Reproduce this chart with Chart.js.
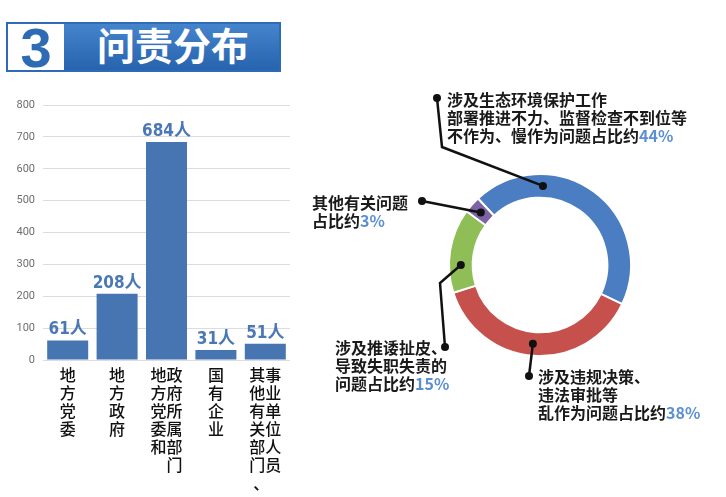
<!DOCTYPE html>
<html>
<head>
<meta charset="utf-8">
<script src="https://cdn.jsdelivr.net/npm/chart.js@4.4.1/dist/chart.umd.min.js"></script>
<style>
  html, body { margin: 0; padding: 0; background: #fff; }
  body { width: 726px; height: 497px; position: relative; overflow: hidden; font-family: "Noto Sans CJK SC", sans-serif; }
  #banner { position: absolute; left: 6px; top: 22px; width: 271px; height: 46px; border: 2px solid #2d6bb5; background: linear-gradient(#4584cd, #2763ae); }
  #banner .num { position: absolute; left: 0; top: 0; width: 56px; height: 46px; background: #fff; color: #2d6bb5; font: bold 56px "Liberation Sans", Arial, sans-serif; line-height: 48px; text-align: center; }
  #banner .title { position: absolute; left: 89px; top: -8px; height: 46px; line-height: 46px; color: #fff; font: bold 38px "Noto Sans CJK SC", sans-serif; }
  #barWrap { position: absolute; left: 0; top: 90px; width: 300px; height: 407px; }
  #pieWrap { position: absolute; left: 300px; top: 80px; width: 426px; height: 417px; }
</style>
</head>
<body>
<div id="banner"><div class="num">3</div><div class="title">问责分布</div></div>
<div id="barWrap"><canvas id="barChart" width="300" height="407"></canvas></div>
<div id="pieWrap"><canvas id="pieChart" width="426" height="417"></canvas></div>

<script>
// bar chart: people held accountable, by unit type (labels are stacked vertically, columns left to right)
const barCategories = [['地方党委'], ['地方政府'], ['地方党委和', '政府所属部门'], ['国有企业'], ['其他有关部门、', '事业单位人员']];
const barValues = [61, 208, 684, 31, 51];
const barUnit = '人';
const yMax = 800;
const yStep = 100;

// doughnut: problem types (last text line gets the percentage appended)
const pieLabels = [
    ['涉及生态环境保护工作', '部署推进不力、监督检查不到位等', '不作为、慢作为问题占比约'],
    ['涉及违规决策、', '违法审批等', '乱作为问题占比约'],
    ['涉及推诿扯皮、', '导致失职失责的', '问题占比约'],
    ['其他有关问题', '占比约']
];
const pieValues = [44, 38, 15, 3];
const pieColors = ['#4a7dc1', '#c6504c', '#8fbd56', '#7d63a6'];

// turn columns of text into lines so each character stacks vertically
function stackColumns(cols) {
    const chars = cols.map(c => [...c]);
    const n = Math.max(...chars.map(c => c.length));
    const lines = [];
    for (let i = 0; i < n; i++) {
        lines.push(chars.map(c => c[i] || '\u3000').join(''));
    }
    return lines;
}

const barValueLabels = {
    id: 'barValueLabels',
    afterDatasetsDraw(chart) {
        const ctx = chart.ctx;
        const meta = chart.getDatasetMeta(0);
        ctx.save();
        ctx.fillStyle = '#4a78b6';
        ctx.font = 'bold 17px "DejaVu Sans Condensed", "Noto Sans CJK SC", sans-serif';
        ctx.textAlign = 'center';
        ctx.textBaseline = 'bottom';
        meta.data.forEach((bar, i) => {
            ctx.fillText(barValues[i] + barUnit, bar.x, bar.y - 2);
        });
        ctx.restore();
    }
};

new Chart(document.getElementById('barChart'), {
    type: 'bar',
    data: {
        labels: barCategories.map(stackColumns),
        datasets: [{
            data: barValues,
            backgroundColor: '#4675b1',
            barPercentage: 0.83,
            categoryPercentage: 1
        }]
    },
    options: {
        responsive: false,
        animation: false,
        layout: { padding: { top: 15, right: 10 } },
        plugins: { legend: { display: false }, tooltip: { enabled: false } },
        scales: {
            x: {
                grid: { display: false, drawTicks: false },
                border: { display: false },
                ticks: {
                    color: '#111',
                    font: { family: '"Noto Sans CJK SC"', size: 16, weight: '500', lineHeight: 1.125 },
                    maxRotation: 0,
                    autoSkip: false,
                    padding: 6
                },
                afterFit: s => { s.height = 137; }
            },
            y: {
                min: 0,
                max: yMax,
                ticks: { stepSize: yStep, color: '#6e6e6e', font: { family: 'Roboto', size: 11 }, padding: 8 },
                grid: { color: '#dcdcdc', drawTicks: false },
                border: { display: false },
                afterFit: s => { s.width = 43; }
            }
        }
    },
    plugins: [barValueLabels]
});

// callout layout for the doughnut (canvas coords): text start, leader path, where on the arc it lands
const calloutLayout = [
    { x: 147, y: 20, path: [[137, 18], [142, 67]], along: 0.285 },
    { x: 238, y: 297, path: [[229, 296]], along: 0.51 },
    { x: 35, y: 268, path: [[145, 267], [140, 203]], along: 0.33 },
    { x: 12, y: 123, path: [[122, 121]], along: 0.5 }
];

const pieCallouts = {
    id: 'pieCallouts',
    afterDatasetsDraw(chart) {
        const ctx = chart.ctx;
        const meta = chart.getDatasetMeta(0);
        ctx.save();
        ctx.strokeStyle = '#111';
        ctx.lineWidth = 2.5;
        meta.data.forEach((arc, i) => {
            const lay = calloutLayout[i];
            const a = arc.startAngle + lay.along * (arc.endAngle - arc.startAngle);
            const r = (arc.innerRadius + arc.outerRadius) / 2;
            const end = [arc.x + r * Math.cos(a), arc.y + r * Math.sin(a)];
            const pts = lay.path.concat([end]);
            ctx.beginPath();
            ctx.moveTo(pts[0][0], pts[0][1]);
            pts.slice(1).forEach(p => ctx.lineTo(p[0], p[1]));
            ctx.stroke();
            ctx.fillStyle = '#111';
            [pts[0], end].forEach(p => {
                ctx.beginPath();
                ctx.arc(p[0], p[1], 4, 0, Math.PI * 2);
                ctx.fill();
            });

            // text
            ctx.font = 'bold 16px "Noto Sans CJK SC", sans-serif';
            ctx.textAlign = 'left';
            ctx.textBaseline = 'middle';
            const lines = pieLabels[i];
            lines.forEach((line, k) => {
                const ty = lay.y + k * 18;
                ctx.fillStyle = '#1a1a1a';
                ctx.fillText(line, lay.x, ty);
                if (k === lines.length - 1) {
                    const w = ctx.measureText(line).width;
                    ctx.fillStyle = '#5b8fd3';
                    ctx.fillText(pieValues[i] + '%', lay.x + w, ty);
                }
            });
        });
        ctx.restore();
    }
};

new Chart(document.getElementById('pieChart'), {
    type: 'doughnut',
    data: {
        labels: pieLabels.map(l => l.join('')),
        datasets: [{
            data: pieValues,
            backgroundColor: pieColors,
            borderColor: '#fff',
            borderWidth: 2
        }]
    },
    options: {
        responsive: false,
        animation: false,
        rotation: -43,
        cutout: '74%',
        layout: { padding: { left: 148, right: 94, top: 93, bottom: 140 } },
        plugins: { legend: { display: false }, tooltip: { enabled: false } }
    },
    plugins: [pieCallouts]
});
</script>
</body>
</html>
